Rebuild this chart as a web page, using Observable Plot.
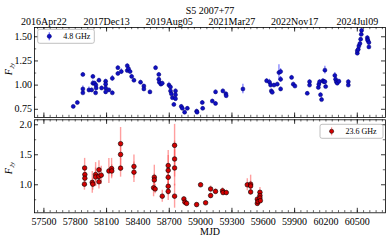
<!DOCTYPE html>
<html><head><meta charset="utf-8">
<script src="https://cdn.jsdelivr.net/npm/d3@7"></script>
<script src="https://cdn.jsdelivr.net/npm/@observablehq/plot@0.6"></script>
<style>
html,body{margin:0;padding:0;background:#fff;}
#chart{position:relative;width:389px;height:240px;overflow:hidden;font-family:"Liberation Serif","Times New Roman",serif;}
#chart svg{position:absolute;left:0;overflow:visible;}
</style></head><body><div id="chart"></div>
<script>
const title = "S5 2007+77";
const xTicks = [57500, 57800, 58100, 58400, 58700, 59000, 59300, 59600, 59900, 60200, 60500];
const dateTicks = [57500, 58100, 58700, 59300, 59900, 60500];
const dateLabels = ["2016Apr22", "2017Dec13", "2019Aug05", "2021Mar27", "2022Nov17", "2024Jul09"];
const yTicksTop = [0.75, 1.00, 1.25, 1.50];
const yTicksBottom = [1.0, 1.5, 2.0];
const label48 = "4.8 GHz";
const label236 = "23.6 GHz";

// 4.8 GHz: MJD, flux density (Jy), error
const mjd48 = [57781,57820,57873,57873,57873,57931,57957,57969,57969,57985,57995,57998,58000,58027,58052,58091,58091,58091,58091,58122,58155,58155,58208,58208,58241,58298,58298,58310,58325,58340,58362,58425,58457,58457,58515,58569,58600,58600,58605,58620,58633,58697,58712,58712,58720,58730,58744,58760,58760,58760,58815,58825,58847,58873,58962,58966,59016,59020,59112,59143,59143,59213,59242,59245,59405,59632,59660,59670,59677,59686,59702,59734,59750,59766,59766,59766,59871,59887,59903,60021,60043,60043,60127,60132,60139,60148,60158,60171,60180,60190,60190,60197,60285,60292,60299,60308,60324,60414,60414,60500,60500,60509,60515,60525,60532,60538,60541,60596,60598,60602,60611,60611];
const flux48 = [0.78,0.82,1.11,0.96,0.92,0.95,0.95,1.09,1.02,1.02,0.92,1.00,0.97,1.05,0.97,1.04,1.01,0.97,0.93,0.95,0.92,1.07,1.18,1.12,1.14,1.20,1.15,1.17,1.14,1.09,1.05,1.03,0.99,0.96,0.93,1.18,1.11,1.06,1.03,1.01,1.02,1.00,0.98,0.94,0.91,0.87,0.80,0.94,0.90,0.86,0.78,0.76,0.72,0.76,0.73,0.72,0.82,0.76,0.835,0.81,0.93,0.94,0.91,0.89,0.96,1.045,1.03,1.00,0.94,0.925,1.00,1.01,1.13,1.14,1.06,0.96,1.08,1.01,0.99,0.915,1.035,1.00,0.976,1.01,1.035,0.90,0.85,1.045,1.035,1.155,1.035,0.985,1.10,1.06,1.035,1.02,1.04,1.035,1.00,1.33,1.355,1.37,1.405,1.43,1.475,1.525,1.566,1.49,1.47,1.46,1.44,1.395];
const err48 = [0.015,0.015,0.02,0.03,0.02,0.03,0.02,0.02,0.03,0.02,0.02,0.02,0.02,0.02,0.02,0.02,0.02,0.02,0.02,0.02,0.02,0.03,0.02,0.02,0.03,0.02,0.02,0.02,0.02,0.02,0.02,0.02,0.02,0.02,0.02,0.02,0.02,0.02,0.02,0.02,0.02,0.03,0.02,0.02,0.02,0.02,0.02,0.02,0.02,0.02,0.02,0.02,0.02,0.02,0.02,0.02,0.02,0.02,0.02,0.02,0.02,0.02,0.02,0.02,0.05,0.02,0.03,0.02,0.02,0.02,0.02,0.02,0.08,0.03,0.03,0.02,0.02,0.02,0.02,0.02,0.02,0.02,0.02,0.02,0.02,0.02,0.02,0.02,0.02,0.04,0.02,0.02,0.03,0.02,0.02,0.02,0.02,0.02,0.02,0.02,0.02,0.02,0.02,0.02,0.02,0.02,0.02,0.02,0.03,0.02,0.02,0.02];

// 23.6 GHz: MJD, flux density (Jy), error
const mjd236 = [57890,57892,57892,57888,57963,57968,57995,57995,58027,58027,58027,58049,58122,58148,58150,58234,58234,58234,58362,58362,58557,58557,58550,58565,58633,58690,58690,58690,58690,58690,58751,58751,58751,58751,58840,58850,58866,58962,59000,59048,59096,59096,59143,59210,59215,59246,59447,59479,59479,59479,59543,59543,59550,59568,59568,59568,59572];
const flux236 = [1.28,1.17,1.11,1.01,1.04,1.01,1.17,1.13,1.25,1.14,1.05,1.16,1.23,1.27,1.23,1.685,1.505,1.277,1.305,1.21,1.126,1.08,0.95,0.93,0.81,1.32,1.24,1.125,0.975,0.89,1.657,1.43,1.28,0.81,0.764,0.71,0.69,0.67,1.00,0.70,0.93,0.82,0.89,0.90,0.87,0.87,1.00,1.01,0.98,0.88,0.76,0.69,0.72,0.875,0.82,0.78,0.735];
const err236 = [0.16,0.10,0.08,0.10,0.18,0.10,0.20,0.15,0.15,0.12,0.12,0.15,0.21,0.17,0.10,0.27,0.20,0.15,0.19,0.17,0.20,0.10,0.15,0.08,0.10,0.25,0.25,0.20,0.15,0.15,0.35,0.30,0.30,0.20,0.04,0.04,0.04,0.03,0.03,0.03,0.05,0.04,0.04,0.05,0.04,0.04,0.10,0.15,0.08,0.05,0.04,0.04,0.04,0.08,0.06,0.05,0.05];

const d48 = mjd48.map((m, i) => ({mjd: m, f: flux48[i], e: err48[i]}));
const d236 = mjd236.map((m, i) => ({mjd: m, f: flux236[i], e: err236[i]}));

const W = 389;
const xDomain = [57410, 60770];
const FONT = "'Liberation Serif','Times New Roman',serif";
const minorX = d3.range(57440, 60770, 60);

function tickMarks(frameH, frameW, yMajor, yMinor) {
  return [
    Plot.tickX(minorX, {x: d => d, insetTop: frameH - 2.2, stroke: "black", strokeWidth: 0.6}),
    Plot.tickX(minorX, {x: d => d, insetBottom: frameH - 2.2, stroke: "black", strokeWidth: 0.6}),
    Plot.tickX(dateTicks, {x: d => d, insetTop: frameH - 4.5, stroke: "black", strokeWidth: 0.8}),
    Plot.tickX(dateTicks, {x: d => d, insetBottom: frameH - 4.5, stroke: "black", strokeWidth: 0.8}),
    Plot.tickY(yMajor, {y: d => d, insetRight: frameW - 4, stroke: "black", strokeWidth: 0.8}),
    Plot.tickY(yMajor, {y: d => d, insetLeft: frameW - 4, stroke: "black", strokeWidth: 0.8}),
    Plot.tickY(yMinor, {y: d => d, insetRight: frameW - 2.2, stroke: "black", strokeWidth: 0.6}),
    Plot.tickY(yMinor, {y: d => d, insetLeft: frameW - 2.2, stroke: "black", strokeWidth: 0.6})
  ];
}

// top panel
const mL = 34, mR = 4;
const frameW = W - mL - mR;
const topH = 118, topMT = 27, topMB = 1;
const topPlot = Plot.plot({
  width: W, height: topH, marginLeft: mL, marginRight: mR, marginTop: topMT, marginBottom: topMB,
  style: {fontFamily: FONT, fontSize: "10px", background: "transparent", overflow: "visible"},
  x: {domain: xDomain},
  y: {domain: [0.665, 1.596]},
  marks: [
    Plot.ruleX(d48, {x: "mjd", y1: d => d.f - d.e, y2: d => d.f + d.e, stroke: "#4a4aff", strokeWidth: 1.2, strokeOpacity: 0.75}),
    Plot.dot(d48, {x: "mjd", y: "f", r: 2, fill: "#1010c4", stroke: "#000070", strokeWidth: 0.5}),
    ...tickMarks(topH - topMT - topMB, frameW, yTicksTop, [0.875, 1.125, 1.375]),
    Plot.axisY({ticks: yTicksTop, tickSize: 0, tickPadding: 2.5, tickFormat: d => d.toFixed(2), fontSize: 10, label: null}),
    Plot.axisX({anchor: "top", ticks: dateTicks, tickSize: 0, tickPadding: 3, tickFormat: d => dateLabels[dateTicks.indexOf(d)], fontSize: 10, label: null}),
    Plot.frame({stroke: "black", strokeWidth: 0.8}),
    Plot.text([title], {frameAnchor: "top", dy: -21, fontSize: 10, fill: "black"})
  ]
});
topPlot.style.top = "0px";

// bottom panel
const botTop = 118, botH = 122, botMT = 1.3, botMB = 27.7;
const botPlot = Plot.plot({
  width: W, height: botH, marginLeft: mL, marginRight: mR, marginTop: botMT, marginBottom: botMB,
  style: {fontFamily: FONT, fontSize: "10px", background: "transparent", overflow: "visible"},
  x: {domain: xDomain},
  y: {domain: [0.533, 2.083]},
  marks: [
    Plot.ruleX(d236, {x: "mjd", y1: d => d.f - d.e, y2: d => d.f + d.e, stroke: "#ff5050", strokeWidth: 1.4, strokeOpacity: 0.55}),
    Plot.dot(d236, {x: "mjd", y: "f", r: 2.3, fill: "#d40000", stroke: "black", strokeWidth: 0.6}),
    ...tickMarks(botH - botMT - botMB, frameW, yTicksBottom, [0.75, 1.25, 1.75]),
    Plot.axisY({ticks: yTicksBottom, tickSize: 0, tickPadding: 2.5, tickFormat: d => d.toFixed(1), fontSize: 10, label: null}),
    Plot.axisX({anchor: "bottom", ticks: xTicks, tickSize: 0, tickPadding: 5, tickFormat: d => String(d), fontSize: 10, label: null}),
    Plot.frame({stroke: "black", strokeWidth: 0.8}),
    Plot.text(["MJD"], {frameAnchor: "bottom", dy: 22, fontSize: 10, fill: "black"})
  ]
});
botPlot.style.top = botTop + "px";

const chart = document.getElementById("chart");
chart.appendChild(topPlot);
chart.appendChild(botPlot);

function yLabel(svg, x, y) {
  const t = d3.select(svg).append("text")
    .attr("transform", `translate(${x},${y}) rotate(-90)`)
    .attr("text-anchor", "middle")
    .attr("font-family", FONT).attr("font-size", 10).attr("fill", "black")
    .attr("font-style", "italic");
  t.append("tspan").text("F");
  t.append("tspan").attr("dy", 2).attr("font-size", 7).text("Jy");
}
yLabel(topPlot, 11.5, 69);
yLabel(botPlot, 11.5, 168 - botTop);

function legend(svg, x, y, w, h, text, fill, stroke, errColor, errOp) {
  const g = d3.select(svg).append("g");
  g.append("rect").attr("x", x).attr("y", y).attr("width", w).attr("height", h)
    .attr("rx", 2).attr("fill", "white").attr("stroke", "#b0b0b0").attr("stroke-width", 0.8);
  const mx = x + 11.6, my = y + h / 2;
  g.append("line").attr("x1", mx).attr("x2", mx).attr("y1", my - 4).attr("y2", my + 4)
    .attr("stroke", errColor).attr("stroke-width", 1.3).attr("stroke-opacity", errOp);
  g.append("circle").attr("cx", mx).attr("cy", my).attr("r", 2.1)
    .attr("fill", fill).attr("stroke", stroke).attr("stroke-width", 0.5);
  g.append("text").attr("x", x + 25.5).attr("y", my + 2.8)
    .attr("text-anchor", "start")
    .attr("font-family", FONT).attr("font-size", 8).attr("fill", "black").text(text);
}
legend(topPlot, 37.7, 29.3, 56.6, 14, label48, "#1010c4", "#000070", "#4a4aff", 0.75);
legend(botPlot, 320, 124.3 - botTop, 63, 14, label236, "#d40000", "black", "#ff5050", 0.6);
</script></body></html>
